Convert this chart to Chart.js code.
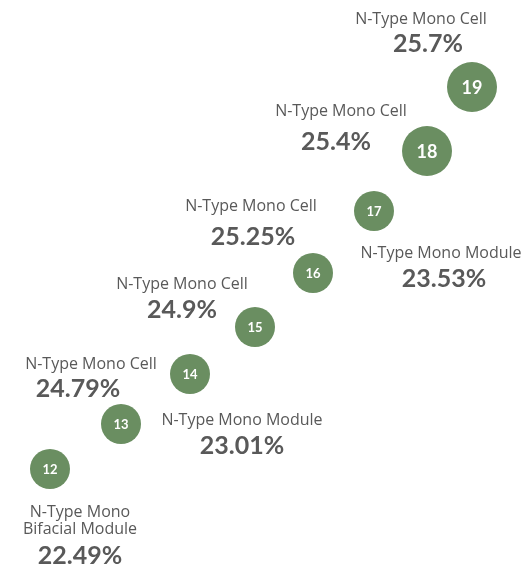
<!DOCTYPE html>
<html>
<head>
<meta charset="utf-8">
<script src="https://cdn.jsdelivr.net/npm/chart.js@4/dist/chart.umd.min.js"></script>
<style>
  html, body { margin: 0; padding: 0; background: #ffffff; }
  #wrap { width: 531px; height: 570px; }
</style>
</head>
<body>
<div id="wrap"><canvas id="c" width="531" height="570"></canvas></div>
<script>
// Milestones (year suffix shown inside bubbles)
const years = ['12', '13', '14', '15', '16', '17', '18', '19'];
// Bubble positions on the (hidden) layout axes, and bubble sizes
const bubbleX = [50, 121, 190, 255, 313, 374, 427, 472];
const bubbleY = [469, 424, 374, 327, 273, 211, 151, 87];
const bubbleR = [20, 20, 20, 20, 20, 20, 25, 25];

// Annotations
const noteTitles = [
  ['N-Type Mono', 'Bifacial Module'],
  ['N-Type Mono Module'],
  ['N-Type Mono Cell'],
  ['N-Type Mono Cell'],
  ['N-Type Mono Cell'],
  ['N-Type Mono Module'],
  ['N-Type Mono Cell'],
  ['N-Type Mono Cell']
];
const noteValues = ['22.49%', '23.01%', '24.79%', '24.9%', '25.25%', '23.53%', '25.4%', '25.7%'];
const noteTitleX = [80, 242, 91, 182, 251, 441, 341, 421];
const noteTitleY = [512, 420, 364, 284, 206, 253, 111, 19];
const noteValueX = [80, 242, 78, 182, 253, 444, 336, 428];
const noteValueY = [556, 446, 389, 310, 237, 279, 142, 44];

const GREEN = '#6a8e61';
const GREY = '#595959';

const labelPlugin = {
  id: 'labels',
  afterDatasetsDraw(chart) {
    const ctx = chart.ctx;
    const xs = chart.scales.x, ys = chart.scales.y;
    ctx.save();
    ctx.textAlign = 'center';
    ctx.textBaseline = 'middle';
    // bubble numbers
    const meta = chart.getDatasetMeta(0);
    meta.data.forEach((el, i) => {
      const big = bubbleR[i] > 22;
      ctx.fillStyle = '#ffffff';
      ctx.font = (big ? '700 18px' : '700 13px') + ' Lato, "Open Sans", sans-serif';
      ctx.fillText(years[i], el.x, el.y + 1);
    });
    // annotations
    for (let i = 0; i < noteTitles.length; i++) {
      ctx.fillStyle = GREY;
      ctx.font = '400 16px "Open Sans", "Noto Sans", sans-serif';
      const lines = noteTitles[i];
      lines.forEach((t, j) => {
        ctx.fillText(t, xs.getPixelForValue(noteTitleX[i]), ys.getPixelForValue(noteTitleY[i] + j * 17));
      });
      ctx.font = '700 25px Lato, "Open Sans", sans-serif';
      ctx.fillText(noteValues[i], xs.getPixelForValue(noteValueX[i]), ys.getPixelForValue(noteValueY[i]));
    }
    ctx.restore();
  }
};

new Chart(document.getElementById('c'), {
  type: 'bubble',
  data: {
    datasets: [{
      data: years.map((y, i) => ({ x: bubbleX[i], y: bubbleY[i], r: bubbleR[i] })),
      backgroundColor: GREEN,
      borderColor: GREEN,
      borderWidth: 0,
      hoverRadius: 0
    }]
  },
  options: {
    responsive: false,
    animation: false,
    layout: { padding: 0, autoPadding: false },
    plugins: { legend: { display: false }, tooltip: { enabled: false } },
    scales: {
      x: { type: 'linear', min: 0, max: 531, display: false },
      y: { type: 'linear', min: 0, max: 570, reverse: true, display: false }
    },
    clip: false
  },
  plugins: [labelPlugin]
});
</script>
</body>
</html>
